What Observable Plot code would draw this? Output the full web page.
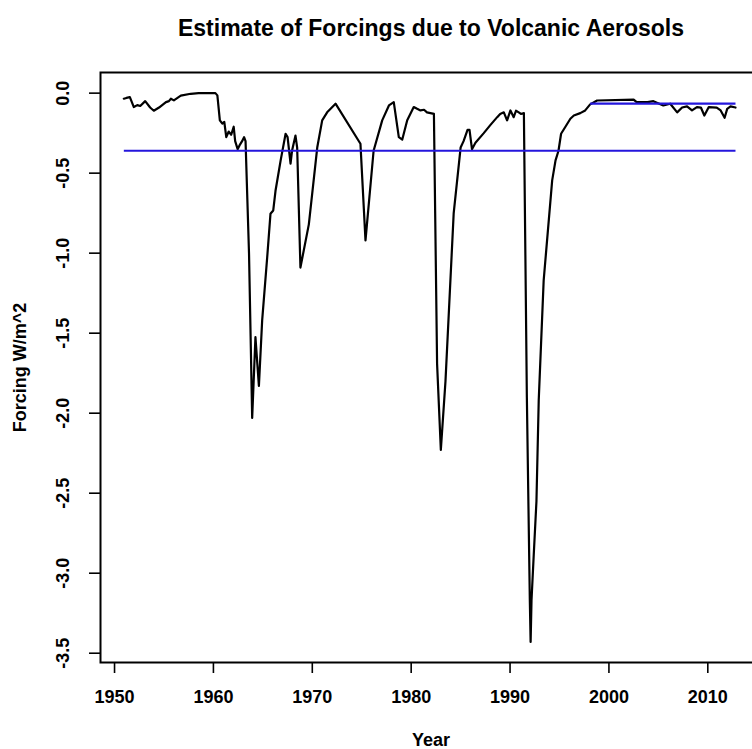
<!DOCTYPE html>
<html><head><meta charset="utf-8">
<script src="https://cdn.jsdelivr.net/npm/d3@7"></script>
<script src="https://cdn.jsdelivr.net/npm/@observablehq/plot@0.6"></script>
<style>
html,body{margin:0;padding:0;background:#fff;overflow:hidden}
#chart{width:752px;height:749px;overflow:hidden}
#chart svg{max-width:none !important;width:800px !important;height:749px !important}
</style>
</head><body><div id="chart"></div>
<script>
const title = "Estimate of Forcings due to Volcanic Aerosols";
const xLabel = "Year";
const yLabel = "Forcing W/m^2";
const xTicks = [1950, 1960, 1970, 1980, 1990, 2000, 2010];
const yTicks = [0, -0.5, -1.0, -1.5, -2.0, -2.5, -3.0, -3.5];

const years = [
  1950.94, 1951.2, 1951.55, 1951.95, 1952.3, 1952.6, 1953.1, 1953.6, 1953.97, 1954.5,
  1955.2, 1955.5, 1955.7, 1956.0, 1956.7, 1957.7, 1958.5, 1960.2, 1960.4, 1960.65,
  1960.9, 1961.1, 1961.3, 1961.55, 1961.8, 1962.05, 1962.2, 1962.45, 1962.7, 1962.9,
  1963.1, 1963.25, 1963.6, 1963.92, 1964.25, 1964.6, 1964.93, 1965.44, 1965.77, 1966.05,
  1966.28, 1966.8, 1967.3, 1967.5, 1967.8, 1967.95, 1968.3, 1968.47, 1968.8, 1969.65,
  1970.5, 1971.0, 1971.5, 1972.35, 1974.87, 1975.38, 1976.2, 1977.07, 1977.75, 1978.24,
  1978.75, 1979.1, 1979.6, 1980.26, 1980.6, 1980.94, 1981.3, 1981.6, 1981.95, 1982.3,
  1982.62, 1983.0, 1983.47, 1984.3, 1985.0, 1985.3, 1985.7, 1985.9, 1986.15, 1986.5,
  1987.34, 1988.0, 1988.7, 1989.0, 1989.37, 1989.7, 1990.04, 1990.37, 1990.6, 1990.88,
  1991.1, 1991.4, 1991.7, 1992.0, 1992.08, 1992.17, 1992.4, 1992.67, 1992.9, 1993.4,
  1994.26, 1994.6, 1994.9, 1995.16, 1995.6, 1996.1, 1996.45, 1997.1, 1997.6, 1998.1,
  1998.8, 2002.5, 2002.8, 2003.9, 2004.5, 2005.5, 2006.2, 2006.9, 2007.4, 2007.9,
  2008.4, 2008.9, 2009.3, 2009.65, 2010.1, 2010.9, 2011.3, 2011.7, 2011.96, 2012.3,
  2012.8
];
const forcing = [
  -0.035, -0.03, -0.025, -0.087, -0.075, -0.08, -0.05, -0.09, -0.11, -0.09,
  -0.056, -0.05, -0.035, -0.045, -0.016, -0.004, 0.0, 0.0, -0.014, -0.17,
  -0.19, -0.18, -0.275, -0.24, -0.26, -0.21, -0.30, -0.35, -0.32, -0.30,
  -0.275, -0.30, -1.0, -2.03, -1.525, -1.83, -1.42, -1.025, -0.754, -0.733,
  -0.61, -0.42, -0.254, -0.275, -0.44, -0.36, -0.265, -0.34, -1.09, -0.82,
  -0.34, -0.17, -0.12, -0.066, -0.316, -0.92, -0.36, -0.17, -0.077, -0.056,
  -0.275, -0.29, -0.17, -0.087, -0.098, -0.108, -0.104, -0.12, -0.125, -0.13,
  -1.69, -2.23, -1.80, -0.75, -0.34, -0.30, -0.23, -0.23, -0.35, -0.31,
  -0.25, -0.20, -0.15, -0.13, -0.12, -0.17, -0.108, -0.15, -0.11, -0.12,
  -0.13, -0.125, -1.9, -3.17, -3.43, -3.17, -2.88, -2.55, -1.92, -1.17,
  -0.545, -0.42, -0.36, -0.254, -0.21, -0.16, -0.14, -0.125, -0.108, -0.07,
  -0.046, -0.04, -0.056, -0.056, -0.05, -0.077, -0.066, -0.12, -0.09, -0.083,
  -0.108, -0.087, -0.09, -0.14, -0.087, -0.09, -0.108, -0.154, -0.098, -0.083,
  -0.09
];

const meanLevels = [-0.36, -0.066];
const meanStart = [1950.94, 1998.1];
const meanEnd = [2012.8, 2012.8];

const series = years.map((yr, i) => ({year: yr, value: forcing[i]}));
const means = meanLevels.map((v, i) => ({x1: meanStart[i], x2: meanEnd[i], y: v}));

const plot = Plot.plot({
  width: 800,
  height: 749,
  marginLeft: 100,
  marginRight: 39,
  marginTop: 72,
  marginBottom: 87,
  style: {fontFamily: "'Liberation Sans', Arial, sans-serif", fontSize: "18px", background: "#fff", color: "#000", maxWidth: "none"},
  x: {domain: [1948.58, 2015.43]},
  y: {domain: [-3.558, 0.129]},
  marks: [
    Plot.axisX({ticks: xTicks, tickSize: 11, tickFormat: () => "", label: null, strokeWidth: 1.6}),
    Plot.axisY({ticks: yTicks, tickSize: 11, tickFormat: () => "", label: null, strokeWidth: 1.6}),
    Plot.text(xTicks, {x: d => d, frameAnchor: "bottom", dy: 35, text: d => String(d), textAnchor: "middle", lineAnchor: "middle", fontWeight: "bold", fontSize: 18}),
    Plot.text(yTicks, {y: d => d, frameAnchor: "left", dx: -37, rotate: -90, text: d => d.toFixed(1), textAnchor: "middle", lineAnchor: "middle", fontWeight: "bold", fontSize: 18}),
    Plot.line(series, {x: "year", y: "value", stroke: "black", strokeWidth: 2.2}),
    Plot.link(means, {x1: "x1", x2: "x2", y1: "y", y2: "y", stroke: "#2416dc", strokeWidth: 2.2}),
    Plot.frame({stroke: "black", strokeWidth: 2}),
    Plot.text([title], {frameAnchor: "top", dy: -44, text: d => d, textAnchor: "middle", lineAnchor: "middle", fontWeight: "bold", fontSize: 23}),
    Plot.text([xLabel], {frameAnchor: "bottom", dy: 78, text: d => d, textAnchor: "middle", lineAnchor: "middle", fontWeight: "bold", fontSize: 18}),
    Plot.text([yLabel], {frameAnchor: "left", dx: -80, rotate: -90, text: d => d, textAnchor: "middle", lineAnchor: "middle", fontWeight: "bold", fontSize: 18})
  ]
});
document.getElementById("chart").appendChild(plot);
</script>
</body></html>
